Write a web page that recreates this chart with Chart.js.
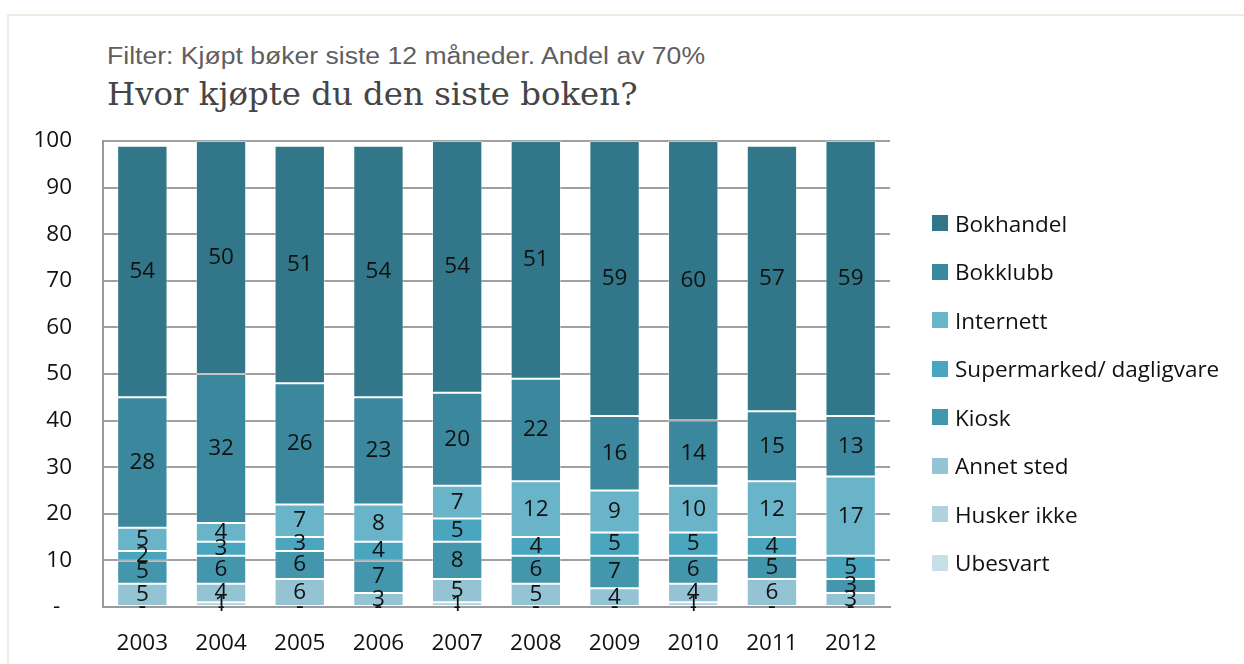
<!DOCTYPE html>
<html>
<head>
<meta charset="utf-8">
<script src="https://cdn.jsdelivr.net/npm/chart.js@4.4.0/dist/chart.umd.min.js"></script>
<style>
    body { margin: 0; background: #fff; }
    #ramme { position: absolute; left: 0; top: 0; width: 1244px; height: 664px; overflow: hidden; }
    #kant { position: absolute; left: 7px; top: 14px; width: 1300px; height: 700px; border-top: 2px solid #efece2; border-left: 2px solid #efece2; }
    #filter { position: absolute; left: 107px; top: 43px; font: 23px "Liberation Sans", Arial, sans-serif; color: #5f5f5f; white-space: nowrap; transform: scaleX(1.155); transform-origin: 0 0; }
    #tittel { position: absolute; left: 107px; top: 75px; font: 32.4px "DejaVu Serif", Georgia, serif; color: #454545; white-space: nowrap; }
    #grafikk { position: absolute; left: 0; top: 0; width: 1244px; height: 664px; }
    #forklaring { position: absolute; left: 932px; top: 0; font: 22.5px "Open Sans", Lato, sans-serif; color: #111; }
    .post { position: absolute; left: 0; white-space: nowrap; display: flex; align-items: center; height: 30px; }
    .boks { width: 16px; height: 16px; margin-right: 7px; }
</style>
</head>
<body>
<div id="ramme">
    <div id="kant"></div>
    <div id="filter">Filter: Kjøpt bøker siste 12 måneder. Andel av 70%</div>
    <div id="tittel">Hvor kjøpte du den siste boken?</div>
    <div id="grafikk"><canvas id="graficoBoker"></canvas></div>
    <div id="forklaring"></div>
</div>
<script>
const aar = ['2003', '2004', '2005', '2006', '2007', '2008', '2009', '2010', '2011', '2012']

// fra bunnen og opp i stabelen
const ubesvart = [0, 0, 0, 0, 0, 0, 0, 0, 0, 0]
const huskerIkke = [0, 1, 0, 0, 1, 0, 0, 1, 0, 0]
const annetSted = [5, 4, 6, 3, 5, 5, 4, 4, 6, 3]
const kiosk = [5, 6, 6, 7, 8, 6, 7, 6, 5, 3]
const supermarked = [2, 3, 3, 4, 5, 4, 5, 5, 4, 5]
const internett = [5, 4, 7, 8, 7, 12, 9, 10, 12, 17]
const bokklubb = [28, 32, 26, 23, 20, 22, 16, 14, 15, 13]
const bokhandel = [54, 50, 51, 54, 54, 51, 59, 60, 57, 59]

const yVerdier = [0, 10, 20, 30, 40, 50, 60, 70, 80, 90, 100]

const serier = [
    { label: 'Ubesvart', data: ubesvart, farge: '#c7dfe7' },
    { label: 'Husker ikke', data: huskerIkke, farge: '#aed3df' },
    { label: 'Annet sted', data: annetSted, farge: '#94c4d4' },
    { label: 'Kiosk', data: kiosk, farge: '#4396ab' },
    { label: 'Supermarked/ dagligvare', data: supermarked, farge: '#4aa5be' },
    { label: 'Internett', data: internett, farge: '#6ab4ca' },
    { label: 'Bokklubb', data: bokklubb, farge: '#3b889e' },
    { label: 'Bokhandel', data: bokhandel, farge: '#327789' }
]

const skrift = '"Open Sans", Lato, sans-serif'

// tallene midt i hver bit av stolpen, "-" for null
const verdiEtiketter = {
    id: 'verdiEtiketter',
    afterDatasetsDraw(grafico) {
        let ctx = grafico.ctx
        ctx.save()
        ctx.font = '22.5px ' + skrift
        ctx.fillStyle = '#111'
        ctx.textAlign = 'center'
        ctx.textBaseline = 'middle'
        grafico.data.datasets.forEach((dataset, i) => {
            let meta = grafico.getDatasetMeta(i)
            meta.data.forEach((bar, j) => {
                let v = dataset.data[j]
                let tekst = v === 0 ? '-' : String(v)
                ctx.fillText(tekst, bar.x, (bar.y + bar.base) / 2)
            })
        })
        ctx.restore()
    }
}

const graficoBoker = new Chart(document.getElementById('graficoBoker'), {
    type: 'bar',
    data: {
        labels: aar,
        datasets: serier.map(s => ({
            label: s.label,
            data: s.data,
            backgroundColor: s.farge,
            borderColor: 'rgba(255,255,255,0.4)',
            borderWidth: 1,
            borderSkipped: false,
            barPercentage: 0.64,
            categoryPercentage: 1
        }))
    },
    options: {
        responsive: true,
        maintainAspectRatio: false,
        animation: false,
        layout: { padding: { top: 141, right: 354, left: 0, bottom: 0 } },
        plugins: {
            legend: { display: false },
            tooltip: { enabled: false }
        },
        scales: {
            x: {
                stacked: true,
                grid: { display: false },
                border: { color: '#9a9a9a', width: 2 },
                ticks: { color: '#111', font: { family: skrift, size: 22.5 }, padding: 15 },
                afterFit(scale) { scale.height = 57 }
            },
            y: {
                stacked: true,
                min: 0,
                max: 100,
                afterBuildTicks(scale) { scale.ticks = yVerdier.map(v => ({ value: v })) },
                grid: { color: '#a0a0a0', lineWidth: 2, drawTicks: false },
                border: { color: '#9a9a9a', width: 2 },
                ticks: {
                    color: '#111',
                    font: { family: skrift, size: 22.5 },
                    padding: 31,
                    callback: v => v === 0 ? '-  ' : v
                },
                afterFit(scale) { scale.width = 103 }
            }
        }
    },
    plugins: [verdiEtiketter]
})

// forklaring, øverst Bokhandel
let forklaring = document.getElementById('forklaring')
serier.slice().reverse().forEach((s, i) => {
    let post = document.createElement('div')
    post.className = 'post'
    post.style.top = (208 + i * 48.5) + 'px'
    post.innerHTML = '<div class="boks" style="background:' + s.farge + '"></div><span>' + s.label + '</span>'
    forklaring.appendChild(post)
})
</script>
</body>
</html>
